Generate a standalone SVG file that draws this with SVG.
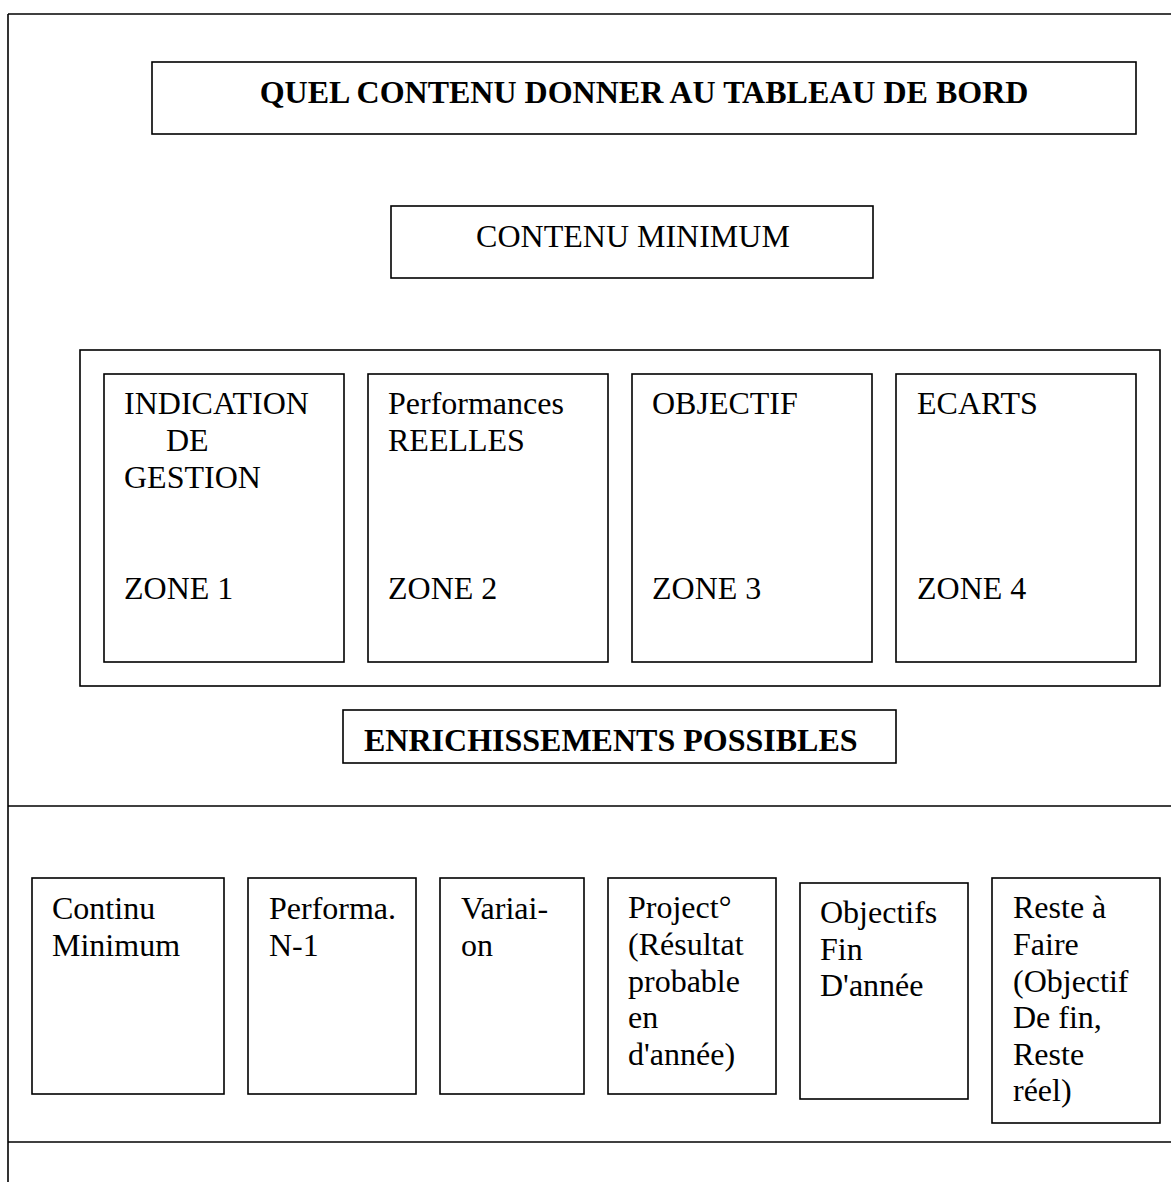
<svg xmlns="http://www.w3.org/2000/svg" width="1171" height="1182" viewBox="0 0 1171 1182">
<style>
  .box{fill:#ffffff;stroke:#000000;stroke-width:1.6}
  .rule{stroke:#000000;stroke-width:1.6;fill:none}
  text{font-family:"Liberation Serif","Times New Roman",serif;font-size:32px;fill:#000000}
  .b{font-weight:bold}
  .mid{text-anchor:middle}
</style>
<rect x="0" y="0" width="1171" height="1182" fill="#ffffff"/>
<g id="frame">
  <line class="rule" x1="8" y1="14" x2="1171" y2="14"/>
  <line class="rule" x1="8" y1="14" x2="8" y2="1182"/>
  <line class="rule" x1="8" y1="806" x2="1171" y2="806"/>
  <line class="rule" x1="8" y1="1142" x2="1171" y2="1142"/>
</g>
<g id="connectors"></g>
<g id="title">
  <rect class="box" x="152" y="62" width="984" height="72"/>
  <text class="b mid" x="644" y="103">QUEL CONTENU DONNER AU TABLEAU DE BORD</text>
</g>
<g id="contenu-minimum">
  <rect class="box" x="391" y="206" width="482" height="72"/>
  <text class="mid" x="633" y="247">CONTENU MINIMUM</text>
</g>
<g id="zones-container">
  <rect class="box" x="80" y="350" width="1080" height="336"/>
</g>
<g id="zone1">
  <rect class="box" x="104" y="374" width="240" height="288"/>
  <text x="124" y="414">INDICATION</text>
  <text x="166" y="451">DE</text>
  <text x="124" y="488">GESTION</text>
  <text x="124" y="599">ZONE 1</text>
</g>
<g id="zone2">
  <rect class="box" x="368" y="374" width="240" height="288"/>
  <text x="388" y="414">Performances</text>
  <text x="388" y="451">REELLES</text>
  <text x="388" y="599">ZONE 2</text>
</g>
<g id="zone3">
  <rect class="box" x="632" y="374" width="240" height="288"/>
  <text x="652" y="414">OBJECTIF</text>
  <text x="652" y="599">ZONE 3</text>
</g>
<g id="zone4">
  <rect class="box" x="896" y="374" width="240" height="288"/>
  <text x="917" y="414">ECARTS</text>
  <text x="917" y="599">ZONE 4</text>
</g>
<g id="enrichissements">
  <rect class="box" x="343" y="710" width="553" height="53"/>
  <text class="b" x="364" y="751">ENRICHISSEMENTS POSSIBLES</text>
</g>
<g id="e1">
  <rect class="box" x="32" y="878" width="192" height="216"/>
  <text x="52" y="919">Continu</text>
  <text x="52" y="956">Minimum</text>
</g>
<g id="e2">
  <rect class="box" x="248" y="878" width="168" height="216"/>
  <text x="269" y="919">Performa.</text>
  <text x="269" y="956">N-1</text>
</g>
<g id="e3">
  <rect class="box" x="440" y="878" width="144" height="216"/>
  <text x="461" y="919">Variai-</text>
  <text x="461" y="956">on</text>
</g>
<g id="e4">
  <rect class="box" x="608" y="878" width="168" height="216"/>
  <text x="628" y="918">Project°</text>
  <text x="628" y="955">(Résultat</text>
  <text x="628" y="992">probable</text>
  <text x="628" y="1028">en</text>
  <text x="628" y="1065">d'année)</text>
</g>
<g id="e5">
  <rect class="box" x="800" y="883" width="168" height="216"/>
  <text x="820" y="923">Objectifs</text>
  <text x="820" y="960">Fin</text>
  <text x="820" y="996">D'année</text>
</g>
<g id="e6">
  <rect class="box" x="992" y="878" width="168" height="245"/>
  <text x="1013" y="918">Reste à</text>
  <text x="1013" y="955">Faire</text>
  <text x="1013" y="992">(Objectif</text>
  <text x="1013" y="1028">De fin,</text>
  <text x="1013" y="1065">Reste</text>
  <text x="1013" y="1101">réel)</text>
</g>
</svg>
